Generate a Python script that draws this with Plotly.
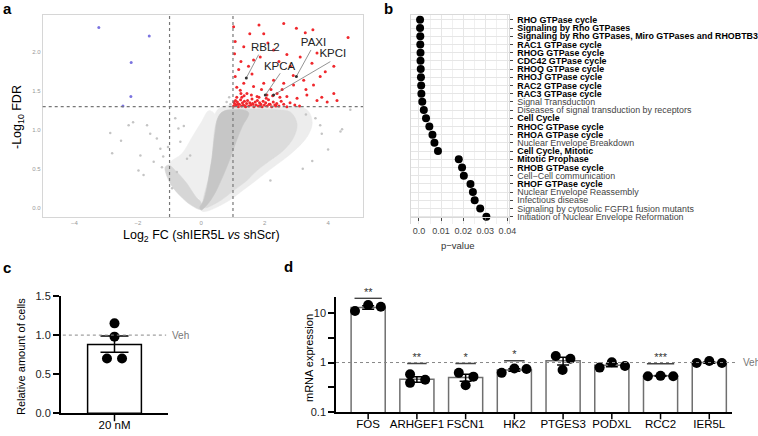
import plotly.graph_objects as go

FONT = "Liberation Sans, Arial, sans-serif"

# ---------------- a: volcano, log2 FC vs -log10 FDR ----------------
FC_CUT = 1.0
FDR_CUT = 1.3

# outlines of the dense grey point cloud (too many points to list one by one)
CORE_FC = [-0.05, 0.07, 0.18, 0.27, 0.34, 0.39, 0.44, 0.50, 0.60, 0.76, 1.00, 1.30, 1.50,
           1.30, 1.10, 0.90, 0.70, 0.45, 0.25, 0.10, 0.00]
CORE_FDR = [0.00, 0.09, 0.26, 0.48, 0.65, 0.83, 0.98, 1.13, 1.21, 1.25, 1.26, 1.26, 1.22,
            1.05, 0.85, 0.62, 0.42, 0.20, 0.07, 0.00, -0.03]
BROAD_FC = [0.10, 0.60, 1.02, 1.44, 1.76, 2.18, 2.60, 2.92, 3.02, 2.81, 2.39, 1.55, 0.76, 0.50, 0.30, 0.05]
BROAD_FDR = [0.00, 0.09, 0.22, 0.35, 0.48, 0.61, 0.74, 0.91, 1.08, 1.23, 1.26, 1.27, 1.25, 1.13, 0.50, 0.05]
HALO_FC = [0.00, 0.70, 1.40, 2.20, 2.90, 3.35, 3.50, 3.30, 2.00, 0.60, 0.35, 0.15]
HALO_FDR = [-0.04, 0.05, 0.25, 0.50, 0.72, 0.92, 1.10, 1.27, 1.29, 1.29, 1.10, 0.60]
LEFT_FC = [-0.03, -0.35, -0.66, -0.93, -1.08, -1.14, -1.03, -0.77, -0.45, -0.19, 0.00]
LEFT_FDR = [-0.02, 0.04, 0.15, 0.28, 0.40, 0.52, 0.55, 0.46, 0.31, 0.15, 0.06]
MID_FC = [-1.00, -0.60, -0.30, 0.00, 0.25, 0.50, 0.30, 0.10, -0.20, -0.50]
MID_FDR = [0.56, 0.70, 0.90, 1.10, 1.25, 1.15, 0.50, 0.10, 0.15, 0.32]

GREY_FC = [-2.87, -2.53, -2.81, -2.29, -2.15, -1.71, -1.61, -1.92, -1.98, -1.82, -1.40, -1.29,
           -1.50, -1.24, -0.45, -0.77, -0.66, -0.82, -0.72, -0.35, -0.92, -1.20, -1.05, -0.55,
           3.75, 4.39, 4.70, 4.44, 3.80, 3.50, 3.20, 4.00, 2.18, 3.30, 0.80, 0.88, 0.92, 3.60]
GREY_FDR = [0.96, 0.86, 0.70, 1.06, 1.10, 1.06, 0.95, 0.67, 0.48, 0.42, 0.89, 0.76,
            0.59, 0.52, 0.63, 0.46, 0.85, 1.15, 1.02, 0.67, 0.25, 0.66, 0.78, 1.05,
            1.06, 0.98, 1.26, 1.01, 0.95, 0.60, 0.50, 0.75, 0.35, 1.20, 1.36, 1.42, 1.33, 1.15]

BLUE_FC = [-3.23, -1.64, -2.21, -2.22, -2.47]
BLUE_FDR = [2.32, 2.21, 1.87, 1.43, 1.31]

RED_FC = [1.02, 1.53, 1.82, 1.97, 2.60, 3.00, 3.28, 3.52, 4.63, 1.07, 1.34, 1.25, 1.49, 1.65,
          1.86, 2.28, 2.70, 2.81, 3.12, 3.49, 3.65, 3.91, 4.18, 1.07, 1.34, 1.65, 1.97, 2.28,
          2.60, 2.91, 3.23, 3.54, 3.75, 4.18, 4.28, 1.23, 1.44, 1.76, 2.07, 2.39, 2.70, 3.02,
          3.33, 3.65, 3.97, 1.05, 1.18, 2.10, 2.45, 1.60, 2.90, 3.30, 2.20, 1.90, 1.12, 2.55,
          1.28, 3.80,
          1.02, 1.05, 1.08, 1.10, 1.14, 1.17, 1.20, 1.24, 1.27, 1.30, 1.33, 1.36, 1.40, 1.43,
          1.46, 1.50, 1.53, 1.56, 1.60, 1.63, 1.66, 1.70, 1.73, 1.77, 1.80, 1.84, 1.88, 1.92,
          1.95, 1.99, 2.03, 2.08, 2.12, 2.17, 2.22, 2.27, 2.32, 2.38, 2.45, 2.52, 2.60, 2.70,
          2.80, 2.95, 3.10, 1.12, 1.35, 1.58, 1.82, 2.05, 2.25, 2.48, 1.25, 1.03, 1.15, 1.38,
          1.62, 1.86, 2.14, 2.35]
RED_FDR = [2.33, 2.24, 2.35, 2.24, 2.37, 2.31, 2.25, 2.29, 2.19, 2.14, 2.07, 1.88, 1.82, 1.90,
           1.94, 2.03, 1.97, 1.82, 1.94, 1.86, 1.99, 1.75, 1.82, 1.69, 1.60, 1.56, 1.60, 1.64,
           1.60, 1.58, 1.64, 1.58, 1.69, 1.47, 1.38, 1.51, 1.47, 1.43, 1.45, 1.47, 1.43, 1.41,
           1.45, 1.38, 1.36, 1.98, 1.78, 2.12, 1.88, 1.72, 1.70, 1.52, 1.52, 1.52, 1.55, 1.52,
           1.42, 1.42,
           1.31, 1.34, 1.38, 1.32, 1.36, 1.30, 1.33, 1.39, 1.31, 1.35, 1.32, 1.37, 1.30, 1.34,
           1.38, 1.31, 1.35, 1.32, 1.40, 1.33, 1.30, 1.36, 1.32, 1.38, 1.31, 1.35, 1.33, 1.30,
           1.37, 1.32, 1.35, 1.31, 1.39, 1.33, 1.30, 1.36, 1.32, 1.34, 1.31, 1.37, 1.33, 1.30,
           1.35, 1.32, 1.31, 1.42, 1.44, 1.45, 1.42, 1.41, 1.44, 1.42, 1.47, 1.36, 1.33, 1.31,
           1.34, 1.31, 1.33, 1.31]

LABELS = ["RBL2", "KPCA", "PAXI", "KPCI"]
LABEL_FC = [1.42, 2.02, 3.00, 2.28]
LABEL_FDR = [1.67, 1.45, 1.69, 1.45]
LABEL_TEXT_FC = [2.02, 2.47, 3.54, 4.15]
LABEL_TEXT_FDR = [2.05, 1.81, 2.12, 1.97]
LEADER_FC = [1.81, 2.49, 3.46, 4.07]
LEADER_FDR = [1.97, 1.73, 2.03, 1.88]

# ---------------- b: Reactome pathways ----------------
PATHWAYS = [
    "RHO GTPase cycle", "Signaling by Rho GTPases",
    "Signaling by Rho GTPases, Miro GTPases and RHOBTB3", "RAC1 GTPase cycle",
    "RHOG GTPase cycle", "CDC42 GTPase cycle", "RHOQ GTPase cycle", "RHOJ GTPase cycle",
    "RAC2 GTPase cycle", "RAC3 GTPase cycle", "Signal Transduction",
    "Diseases of signal transduction by receptors", "Cell Cycle", "RHOC GTPase cycle",
    "RHOA GTPase cycle", "Nuclear Envelope Breakdown", "Cell Cycle, Mitotic",
    "Mitotic Prophase", "RHOB GTPase cycle", "Cell\u2212Cell communication",
    "RHOF GTPase cycle", "Nuclear Envelope Reassembly", "Infectious disease",
    "Signaling by cytosolic FGFR1 fusion mutants", "Initiation of Nuclear Envelope Reformation",
]
PVALUES = [0.0005, 0.0005, 0.0006, 0.0006, 0.0007, 0.0007, 0.0008, 0.0009, 0.0010, 0.0011,
           0.0015, 0.0022, 0.0032, 0.0047, 0.0061, 0.0070, 0.0086, 0.0180, 0.0195, 0.0203,
           0.0233, 0.0244, 0.0252, 0.0277, 0.0305]
BOLD = [1, 1, 1, 1, 1, 1, 1, 1, 1, 1, 0, 0, 1, 1, 1, 0, 1, 1, 1, 0, 1, 0, 0, 0, 0]

# ---------------- c: relative amount of cells ----------------
C_GROUP = "20 nM"
C_MEAN = 0.88
C_ERR_UP = 0.11
C_ERR_DOWN = 0.10
C_POINTS = [1.15, 0.98, 0.70, 0.70]

# ---------------- d: mRNA expression ----------------
GENES = ["FOS", "ARHGEF1", "FSCN1", "HK2", "PTGES3", "PODXL", "RCC2", "IER5L"]
D_MEAN = [12.8, 0.46, 0.50, 0.71, 1.08, 0.88, 0.54, 1.00]
D_SEM = [1.0, 0.06, 0.08, 0.04, 0.19, 0.06, 0.01, 0.03]
D_REPS = [[10.8, 14.3, 13.2], [0.58, 0.39, 0.45], [0.62, 0.52, 0.35], [0.62, 0.76, 0.74],
          [1.35, 1.19, 0.71], [0.79, 1.01, 0.85], [0.53, 0.54, 0.53], [0.98, 1.07, 0.98]]
D_STARS = ["**", "**", "*", "*", "", "", "***", ""]
D_STAR_LEVEL = [19.5, 0.96, 0.96, 1.08, None, None, 0.95, None]


def px_x(v):
    return v / 758


def px_y(v):
    return 1 - v / 436


fig = go.Figure()

# a
for xs, ys, col in [(HALO_FC, HALO_FDR, "#ededed"), (MID_FC, MID_FDR, "#efefef"),
                    (BROAD_FC, BROAD_FDR, "#dcdcdc"), (LEFT_FC, LEFT_FDR, "#d6d6d6"),
                    (CORE_FC, CORE_FDR, "#c6c6c6")]:
    fig.add_trace(go.Scatter(x=xs + xs[:1], y=ys + ys[:1], fill="toself", fillcolor=col,
                             mode="lines", line=dict(width=0.5, color=col, shape="spline"),
                             hoverinfo="skip"))
fig.add_trace(go.Scatter(x=GREY_FC, y=GREY_FDR, mode="markers",
                         marker=dict(size=2.5, color="#c4c4c4")))
fig.add_trace(go.Scatter(x=BLUE_FC, y=BLUE_FDR, mode="markers",
                         marker=dict(size=3, color="#7b74e0")))
fig.add_trace(go.Scatter(x=RED_FC, y=RED_FDR, mode="markers",
                         marker=dict(size=3, color="#f0282d")))
lx, ly = [], []
for i in range(len(LABELS)):
    lx += [LEADER_FC[i], LABEL_FC[i], None]
    ly += [LEADER_FDR[i], LABEL_FDR[i], None]
fig.add_trace(go.Scatter(x=lx, y=ly, mode="lines", line=dict(color="#666", width=0.7)))
fig.add_trace(go.Scatter(x=LABEL_FC, y=LABEL_FDR, mode="markers",
                         marker=dict(size=3, color="#333")))
fig.add_trace(go.Scatter(x=LABEL_TEXT_FC, y=LABEL_TEXT_FDR, mode="text", text=LABELS,
                         textfont=dict(size=11.5, color="#222")))

# b
fig.add_trace(go.Scatter(x=PVALUES, y=list(range(len(PATHWAYS))), mode="markers",
                         marker=dict(size=8, color="black"), xaxis="x2", yaxis="y2"))
ticktext_b = [f"<b>{p}</b>" if b else f"<span style='color:#444'>{p}</span>"
              for p, b in zip(PATHWAYS, BOLD)]

# c
fig.add_trace(go.Bar(x=[0], y=[C_MEAN], width=1.0,
                     marker=dict(color="white", line=dict(color="black", width=1.5)),
                     error_y=dict(type="data", array=[C_ERR_UP], arrayminus=[C_ERR_DOWN],
                                  color="black", thickness=1.5, width=14),
                     xaxis="x3", yaxis="y3"))
fig.add_trace(go.Scatter(x=[0, 0, -0.14, 0.14], y=C_POINTS, mode="markers",
                         marker=dict(size=10, color="black"), xaxis="x3", yaxis="y3"))

# d
fig.add_trace(go.Bar(x=list(range(len(GENES))), y=D_MEAN, width=0.7,
                     marker=dict(color="white", line=dict(color="#6f6f6f", width=1.5)),
                     error_y=dict(type="data", array=D_SEM, color="black", thickness=1.5, width=6),
                     xaxis="x4", yaxis="y4"))
jitter = [[-0.27, 0, 0.26], [-0.14, -0.14, 0.17], [-0.14, 0.16, 0], [-0.26, 0, 0.25],
          [-0.15, 0.15, -0.01], [-0.25, 0, 0.27], [-0.26, 0, 0.26], [-0.26, 0, 0.26]]
dx, dy = [], []
for i, reps in enumerate(D_REPS):
    for off, v in zip(jitter[i], reps):
        dx.append(i + off)
        dy.append(v)
fig.add_trace(go.Scatter(x=dx, y=dy, mode="markers", marker=dict(size=10, color="black"),
                         xaxis="x4", yaxis="y4", cliponaxis=False))
half = [0.28, 0.2, 0.21, 0.21, 0, 0, 0.28, 0]
sx, sy, tx, ty, tt = [], [], [], [], []
for i, lvl in enumerate(D_STAR_LEVEL):
    if lvl is None:
        continue
    sx += [i - half[i], i + half[i], None]
    sy += [lvl, lvl, None]
    tx.append(i)
    ty.append(lvl)
    tt.append(D_STARS[i])
fig.add_trace(go.Scatter(x=sx, y=sy, mode="lines", line=dict(color="#444", width=1.5),
                         xaxis="x4", yaxis="y4"))
fig.add_trace(go.Scatter(x=tx, y=ty, mode="text", text=tt, textposition="top center",
                         textfont=dict(size=11, color="#333"), xaxis="x4", yaxis="y4",
                         cliponaxis=False))

dot = dict(color="#777", width=1.2, dash="dot")
shapes = [
    dict(type="line", xref="x", yref="y domain", x0=-FC_CUT, x1=-FC_CUT, y0=0, y1=1, line=dot),
    dict(type="line", xref="x", yref="y domain", x0=FC_CUT, x1=FC_CUT, y0=0, y1=1, line=dot),
    dict(type="line", xref="x domain", yref="y", x0=0, x1=1, y0=FDR_CUT, y1=FDR_CUT, line=dot),
    dict(type="line", xref="x3 domain", yref="y3", x0=0.02, x1=0.98, y0=1, y1=1,
         line=dict(color="#888", width=1, dash="dot")),
    dict(type="line", xref="x4 domain", yref="y4", x0=0, x1=1.013, y0=1, y1=1,
         line=dict(color="#888", width=1, dash="dot")),
    # category tick marks drawn by hand so the labels can sit close to the axis
    dict(type="line", xref="x3", yref="y3 domain", x0=0, x1=0, y0=0, y1=-0.068,
         line=dict(color="black", width=1.5)),
]
for i in range(len(GENES)):
    shapes.append(dict(type="line", xref="x4", yref="y4 domain", x0=i, x1=i, y0=0, y1=-0.061,
                       line=dict(color="black", width=1.5)))

annotations = [
    dict(text="<b>a</b>", x=px_x(7), y=px_y(8), font=dict(size=15)),
    dict(text="<b>b</b>", x=px_x(388), y=px_y(8), font=dict(size=15)),
    dict(text="<b>c</b>", x=px_x(7), y=px_y(267), font=dict(size=15)),
    dict(text="<b>d</b>", x=px_x(288), y=px_y(266), font=dict(size=15)),
    dict(text="Log<sub>2</sub> FC (shIER5L <i>vs</i> shScr)", x=px_x(201), y=px_y(236),
         font=dict(size=12.5)),
    dict(text="-Log<sub>10</sub> FDR", x=px_x(18), y=px_y(117), textangle=-90, font=dict(size=12.5)),
    dict(text="p\u2212value", x=px_x(458), y=px_y(246), font=dict(size=9.5, color="#333")),
    dict(text="Relative amount of cells", x=px_x(21), y=px_y(357), textangle=-90, font=dict(size=11)),
    dict(text="mRNA expression", x=px_x(309), y=px_y(358), textangle=-90, font=dict(size=11)),
    dict(text="Veh", x=px_x(170), y=px_y(335), xanchor="left", font=dict(size=10, color="#777")),
    dict(text="Veh", x=px_x(741), y=px_y(362), xanchor="left", font=dict(size=10, color="#777")),
]
for a in annotations:
    a.update(xref="paper", yref="paper", showarrow=False)
    a.setdefault("xanchor", "center")
    a["yanchor"] = "middle"

fig.update_layout(
    width=758, height=436, margin=dict(l=0, r=0, t=0, b=0),
    paper_bgcolor="white", plot_bgcolor="white", showlegend=False,
    font=dict(family=FONT, color="black"),
    shapes=shapes, annotations=annotations,
    xaxis=dict(domain=[px_x(42.7), px_x(363)], range=[-5, 5.1], tickvals=[-4, -2, 0, 2, 4],
               showgrid=False, zeroline=False, showline=True, mirror=True, linecolor="#d6d6d6",
               tickfont=dict(size=6, color="#999"), ticks=""),
    yaxis=dict(domain=[px_y(217), px_y(15)], range=[-0.12, 2.48], tickvals=[0, 0.5, 1, 1.5, 2],
               tickformat=".1f", showgrid=False, zeroline=False, showline=True, mirror=True,
               linecolor="#d6d6d6", tickfont=dict(size=6, color="#999"), ticks=""),
    xaxis2=dict(domain=[px_x(411), px_x(508.5)], range=[-0.0036, 0.0405],
                tickvals=[0, 0.01, 0.02, 0.03, 0.04], ticktext=["0.0", "0.01", "0.02", "0.03", "0.04"],
                showgrid=True, gridcolor="#e6e6e6", gridwidth=1, zeroline=False,
                minor=dict(dtick=0.005, showgrid=True, gridcolor="#f0f0f0"),
                showline=True, mirror=True, linecolor="#d9d9d9",
                ticks="outside", ticklen=3, tickcolor="#444", ticklabelstandoff=2,
                tickfont=dict(size=9, color="#444")),
    yaxis2=dict(domain=[px_y(223.5), px_y(15)], range=[24.83, -0.59], anchor="x2",
                tickvals=list(range(len(PATHWAYS))), ticktext=ticktext_b, side="right",
                showgrid=True, gridcolor="#e6e6e6", zeroline=False,
                showline=True, mirror=True, linecolor="#d9d9d9",
                ticks="outside", ticklen=3, tickcolor="#444", ticklabelstandoff=3,
                tickfont=dict(size=8.9, color="black")),
    xaxis3=dict(domain=[px_x(60.7), px_x(168.3)], range=[-1, 1], tickvals=[0], ticktext=[C_GROUP],
                anchor="y3", showline=True, linecolor="black", linewidth=1.5, showgrid=False,
                zeroline=False, ticks="", tickfont=dict(size=11.5)),
    yaxis3=dict(domain=[px_y(413.3), px_y(296)], range=[0, 1.5], dtick=0.5, tickformat=".1f",
                anchor="x3", showline=True, linecolor="black", linewidth=1.5, showgrid=False,
                zeroline=False, ticks="outside", ticklen=6, tickwidth=1.5, tickcolor="black",
                tickfont=dict(size=11, color="#222")),
    xaxis4=dict(domain=[px_x(336), px_x(731.7)], range=[-0.66, 7.46],
                tickvals=list(range(len(GENES))), ticktext=GENES, anchor="y4",
                showline=True, linecolor="black", linewidth=1.5, showgrid=False, zeroline=False,
                ticks="", tickfont=dict(size=11.5)),
    yaxis4=dict(domain=[px_y(412.3), px_y(297.3)], type="log", range=[-1, 1.31], anchor="x4",
                tickvals=[0.1, 0.3162, 1, 3.162, 10], ticktext=["0.1", "", "1", "", "10"],
                showline=True, linecolor="black", linewidth=1.5, showgrid=False, zeroline=False,
                ticks="outside", ticklen=6, tickwidth=1.5, tickcolor="black",
                tickfont=dict(size=11, color="#222")),
)
# keep the hand-placed domains exactly where they are
fig.update_xaxes(automargin=False)
fig.update_yaxes(automargin=False)

fig.write_html("out.html", config={"displayModeBar": False},
               post_script="document.body.style.margin='0';")
